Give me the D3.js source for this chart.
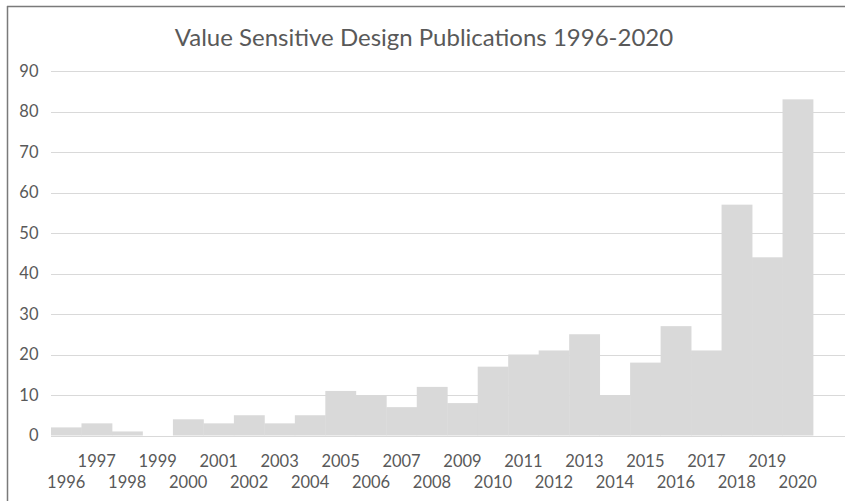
<!DOCTYPE html>
<html>
<head>
<meta charset="utf-8">
<script src="https://cdn.jsdelivr.net/npm/d3@7/dist/d3.min.js"></script>
<style>
  html, body { margin: 0; padding: 0; background: #fff; }
  svg { display: block; }
  text { font-family: Lato, "Open Sans", sans-serif; fill: #595959; }
</style>
</head>
<body>
<svg id="chart" width="845" height="501"></svg>
<script>
const years = ["1996","1997","1998","1999","2000","2001","2002","2003","2004","2005","2006","2007","2008","2009","2010","2011","2012","2013","2014","2015","2016","2017","2018","2019","2020"];
const publications = [2,3,1,0,4,3,5,3,5,11,10,7,12,8,17,20,21,25,10,18,27,21,57,44,83];
const yTicks = [0,10,20,30,40,50,60,70,80,90];
const title = "Value Sensitive Design Publications 1996-2020";

const svg = d3.select("#chart");
const W = 845, H = 501;
const plotLeft = 51, barRight = 813, gridRight = 845;
const plotTop = 71, plotBottom = 435.5;

const x = d3.scaleBand().domain(years).range([plotLeft, barRight]).padding(0);
const y = d3.scaleLinear().domain([0, 90]).range([plotBottom, plotTop]);

// chart border (top & left visible)
svg.append("line").attr("x1", 7).attr("x2", W).attr("y1", 6.5).attr("y2", 6.5)
  .attr("stroke", "#7a7a7a").attr("stroke-width", 1.5);
svg.append("line").attr("x1", 7.5).attr("x2", 7.5).attr("y1", 6).attr("y2", H)
  .attr("stroke", "#7a7a7a").attr("stroke-width", 1.5);

// title
svg.append("text").attr("x", 424).attr("y", 46).attr("text-anchor", "middle")
  .style("font-size", "24px").text(title);

// gridlines
svg.append("g").selectAll("line").data(yTicks).join("line")
  .attr("x1", plotLeft).attr("x2", gridRight)
  .attr("y1", d => Math.round(y(d)) + 0.5).attr("y2", d => Math.round(y(d)) + 0.5)
  .attr("stroke", "#d9d9d9").attr("stroke-width", 1);

// y axis labels
const yAxis = d3.axisLeft(y).tickValues(yTicks).tickSize(0).tickPadding(0);
const gy = svg.append("g").attr("transform", `translate(38.5,0)`).call(yAxis);
gy.select(".domain").remove();
gy.selectAll("text").style("font-size", "16.5px").style("font-family", "Lato, sans-serif").attr("fill", "#595959");

// bars
svg.append("g").selectAll("rect").data(years).join("rect")
  .attr("x", d => x(d))
  .attr("width", x.bandwidth() + 0.4)
  .attr("y", (d, i) => y(publications[i]))
  .attr("height", (d, i) => plotBottom - y(publications[i]))
  .attr("fill", "#d9d9d9");

// x axis labels, staggered
const xAxis = d3.axisBottom(x).tickSize(0).tickPadding(0);
const gx = svg.append("g").attr("transform", `translate(0,${plotBottom})`).call(xAxis);
gx.select(".domain").remove();
gx.selectAll("text")
  .style("font-size", "16.5px").style("font-family", "Lato, sans-serif").attr("fill", "#595959")
  .attr("dy", null)
  .attr("y", (d, i) => i % 2 === 1 ? 31 : 52);
</script>
</body>
</html>
